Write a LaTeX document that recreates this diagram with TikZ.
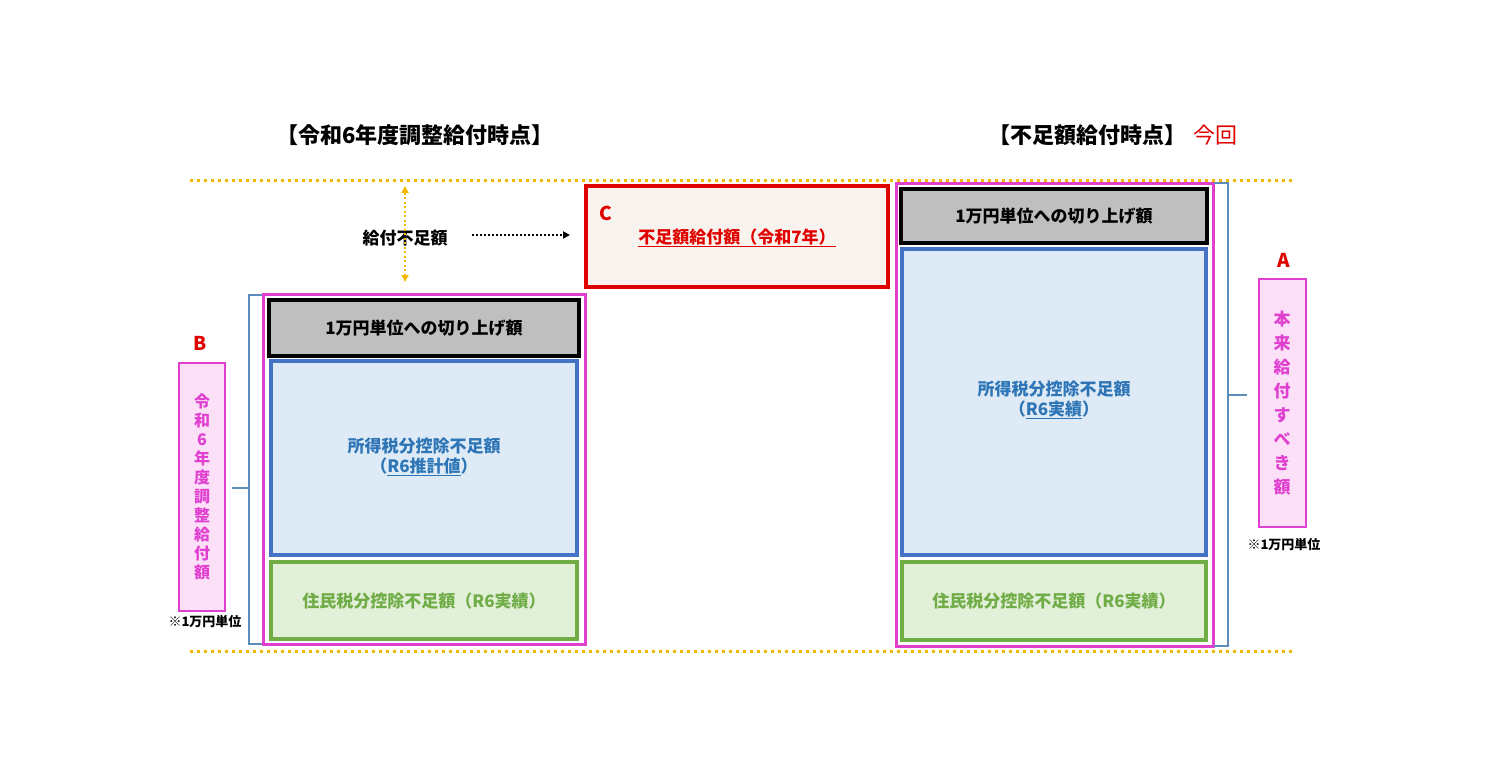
\documentclass[tikz,border=0pt]{standalone}
\usepackage{fontspec}
\setmainfont{Noto Sans CJK JP}
\usetikzlibrary{arrows.meta}
\definecolor{orn}{HTML}{F5B800}
\definecolor{pnk}{HTML}{E040D0}
\definecolor{pfill}{HTML}{FCE0F8}
\definecolor{blu}{HTML}{4472C4}
\definecolor{bfill}{HTML}{DEEBF7}
\definecolor{btxt}{HTML}{2E75B6}
\definecolor{grn}{HTML}{70AD47}
\definecolor{gfill}{HTML}{E2F0D9}
\definecolor{gry}{HTML}{BFBFBF}
\definecolor{rd}{HTML}{E00000}
\definecolor{beige}{HTML}{F8F3EE}
\definecolor{brc}{HTML}{5B8DB8}
\begin{document}
\begin{tikzpicture}[x=1pt,y=-1pt,
  box/.style={draw,line width=#1},
  txt/.style={font=\fontsize{17}{20}\selectfont\bfseries},
  vtxt/.style={font=\fontsize{16}{19}\selectfont\bfseries,text=pnk,align=center},
  dline/.style={orn,line width=3pt,dash pattern=on 3pt off 4pt}]
\useasboundingbox (0,0) rectangle (1503,768);
% dotted lines
\coordinate (l1a) at (190,180); \coordinate (l1b) at (1292,180);
\coordinate (l2a) at (190,651); \coordinate (l2b) at (1292,651);
\draw[dline] (l1a)--(l1b);
\draw[dline] (l2a)--(l2b);
% titles
\node[font=\fontsize{22}{26}\selectfont\bfseries] (t1) at (415,135) {【令和6年度調整給付時点】};
\node[font=\fontsize{22}{26}\selectfont\bfseries,anchor=east] (t2) at (1190,135) {【不足額給付時点】};
\node[font=\fontsize{22}{26}\selectfont,text=rd,anchor=west] (t3) at (t2.east) {今回};
% left stack
\draw[pnk,line width=3pt] (263,294) rectangle (585,644);
\draw[black,fill=gry,line width=4pt] (269,300) rectangle (579,356);
\draw[blu,fill=bfill,line width=3.5pt] (271,361) rectangle (577,555);
\draw[grn,fill=gfill,line width=3.5pt] (271,562) rectangle (577,639);
\node[txt] (lg) at (424,328) {1万円単位への切り上げ額};
\node[txt,text=btxt,align=center] (lb) at (424,457) {所得税分控除不足額\\（\underline{R6推計値}）};
\node[txt,text=grn] (lgr) at (424,601) {住民税分控除不足額（R6実績）};
% right stack
\draw[pnk,line width=3pt] (896,183) rectangle (1213,646);
\draw[black,fill=gry,line width=4pt] (901,189) rectangle (1207,243);
\draw[blu,fill=bfill,line width=3.5pt] (902,249) rectangle (1206,555);
\draw[grn,fill=gfill,line width=3.5pt] (902,562) rectangle (1206,640);
\node[txt] (rg) at (1054,216) {1万円単位への切り上げ額};
\node[txt,text=btxt,align=center] (rb) at (1054,400) {所得税分控除不足額\\（\underline{R6実績}）};
\node[txt,text=grn] (rgr) at (1054,601) {住民税分控除不足額（R6実績）};
% C box
\draw[rd,fill=beige,line width=4pt] (586,186) rectangle (888,287);
\node[font=\fontsize{19}{22}\selectfont\bfseries,text=rd] (c) at (606,213) {C};
\node[txt,text=rd] (cl) at (737,238) {\underline{不足額給付額（令和7年）}};
% shortfall
\node[txt] (sf) at (405,238) {給付不足額};
\coordinate (ar1) at (472,235); \coordinate (ar2) at (570,235);
\draw[black,line width=2pt,dash pattern=on 2pt off 2pt,-{Triangle[length=7pt,width=7pt]}] (ar1)--(ar2);
\coordinate (v1) at (405,186); \coordinate (v2) at (405,282);
\draw[orn,line width=2pt,dash pattern=on 2pt off 2.5pt,{Triangle[length=7pt,width=7pt]}-{Triangle[length=7pt,width=7pt]}] (v1)--(v2);
% brackets
\draw[brc,line width=1.2pt] (262,295)--(249,295)--(249,644)--(262,644);
\draw[brc,line width=1.2pt] (249,488)--(232,488);
\draw[brc,line width=1.2pt] (1214,183)--(1228,183)--(1228,646)--(1214,646);
\draw[brc,line width=1.2pt] (1228,395)--(1247,395);
% B
\node[font=\fontsize{19}{22}\selectfont\bfseries,text=rd] (b) at (200,343) {B};
\draw[pnk,fill=pfill,line width=2.5pt] (179,363) rectangle (225,611);
\node[vtxt] (bt) at (202,487) {令\\和\\6\\年\\度\\調\\整\\給\\付\\額};
\node[font=\fontsize{13}{15}\selectfont\bfseries] (bn) at (205,622) {※1万円単位};
% A
\node[font=\fontsize{19}{22}\selectfont\bfseries,text=rd] (a) at (1284,260) {A};
\draw[pnk,fill=pfill,line width=2.5pt] (1259,279) rectangle (1306,527);
\node[vtxt,font=\fontsize{17}{24}\selectfont\bfseries] (at) at (1282,403) {本\\来\\給\\付\\す\\べ\\き\\額};
\node[font=\fontsize{13}{15}\selectfont\bfseries] (an) at (1284,545) {※1万円単位};
\end{tikzpicture}
\end{document}
